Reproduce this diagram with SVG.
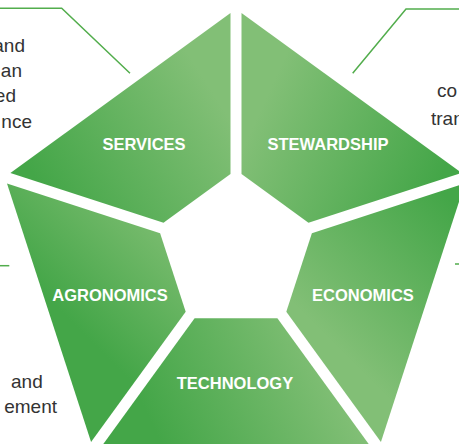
<svg xmlns="http://www.w3.org/2000/svg" width="459" height="444" viewBox="0 0 459 444">
<style>
.lbl{font-family:"Liberation Sans",Arial,sans-serif;font-weight:bold;font-size:16.5px;fill:#ffffff;text-anchor:middle}
.side{font-family:"Liberation Sans",Arial,sans-serif;font-size:19px;fill:#333333}
.co{fill:none;stroke:#52ad4c;stroke-width:1.5}
</style>
<defs>
<linearGradient id="gSer" gradientUnits="userSpaceOnUse" x1="40" y1="185" x2="205" y2="80"><stop offset="0" stop-color="#44a648"/><stop offset="1" stop-color="#82bf76"/></linearGradient>
<linearGradient id="gSte" gradientUnits="userSpaceOnUse" x1="265" y1="100" x2="440" y2="180"><stop offset="0" stop-color="#82bf76"/><stop offset="1" stop-color="#44a648"/></linearGradient>
<linearGradient id="gEco" gradientUnits="userSpaceOnUse" x1="450" y1="200" x2="320" y2="330"><stop offset="0" stop-color="#44a648"/><stop offset="1" stop-color="#82bf76"/></linearGradient>
<linearGradient id="gTec" gradientUnits="userSpaceOnUse" x1="150" y1="420" x2="320" y2="340"><stop offset="0" stop-color="#44a648"/><stop offset="1" stop-color="#82bf76"/></linearGradient>
<linearGradient id="gAgr" gradientUnits="userSpaceOnUse" x1="80" y1="330" x2="180" y2="230"><stop offset="0" stop-color="#44a648"/><stop offset="1" stop-color="#7dbd71"/></linearGradient>
</defs>
<g id="connectors">
<polyline class="co" points="0,8.3 61.7,8.3 130,73.3"/>
<polyline class="co" points="352.7,73.3 406,9 459,9"/>
<line class="co" x1="0" y1="265.7" x2="9.3" y2="265.7"/>
<line class="co" x1="455" y1="264" x2="459" y2="264"/>
</g>
<g id="services">
<polygon points="10.39,172.91 230.5,13 230.5,174 163.51,222.66" fill="url(#gSer)"/>
<text class="lbl" x="144" y="150">SERVICES</text>
</g>
<g id="stewardship">
<polygon points="241.5,13 461.61,172.91 308.49,222.66 241.5,174" fill="url(#gSte)"/>
<text class="lbl" x="328" y="150">STEWARDSHIP</text>
</g>
<g id="economics">
<polygon points="465.01,183.38 380.93,442.12 286.3,311.87 311.89,233.13" fill="url(#gEco)"/>
<text class="lbl" x="363" y="301">ECONOMICS</text>
</g>
<g id="technology">
<polygon points="372.03,448.59 99.97,448.59 194.6,318.34 277.4,318.34" fill="url(#gTec)"/>
<text class="lbl" x="235" y="389">TECHNOLOGY</text>
</g>
<g id="agronomics">
<polygon points="91.07,442.12 6.99,183.38 160.11,233.13 185.7,311.87" fill="url(#gAgr)"/>
<text class="lbl" x="110" y="301">AGRONOMICS</text>
</g>
<g id="side-texts">
<text class="side" x="25" y="51.7" text-anchor="end">and</text>
<text class="side" x="22" y="76.7" text-anchor="end">an</text>
<text class="side" x="16" y="101.7" text-anchor="end">ed</text>
<text class="side" x="32" y="128" text-anchor="end">nce</text>
<text class="side" x="437" y="97">co</text>
<text class="side" x="431" y="125">tran</text>
<text class="side" x="11" y="388.3">and</text>
<text class="side" x="57" y="413.3" text-anchor="end">ement</text>
</g>
</svg>
